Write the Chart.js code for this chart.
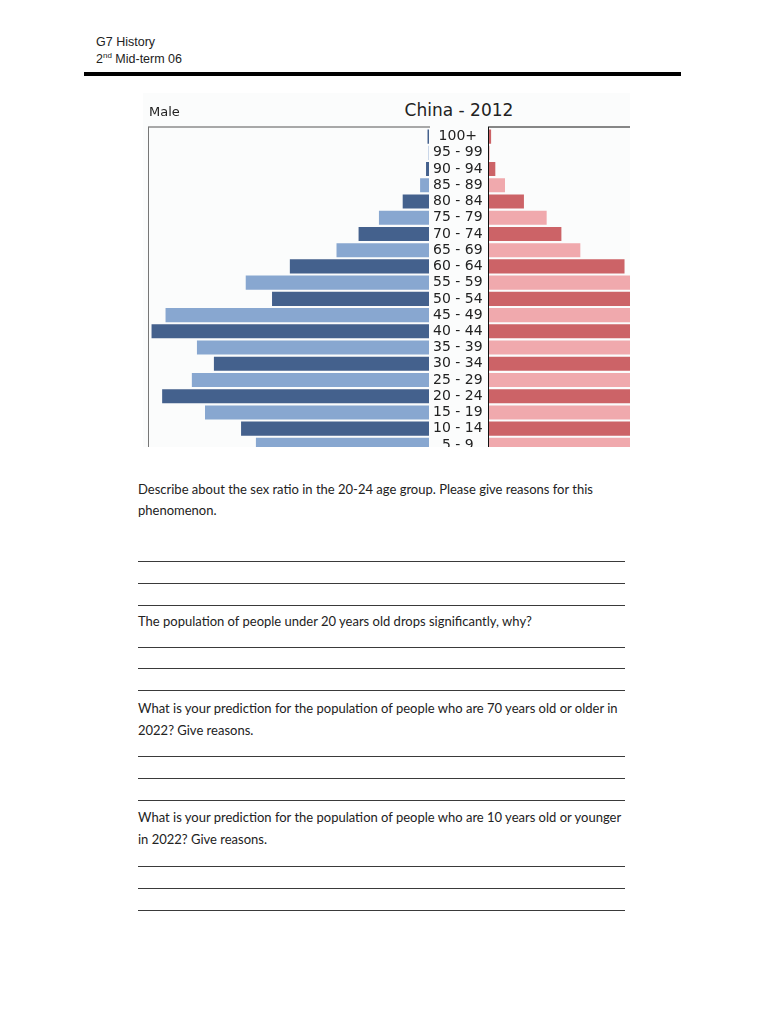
<!DOCTYPE html>
<html>
<head>
<meta charset="utf-8">
<script src="https://cdn.jsdelivr.net/npm/chart.js@4.4.1/dist/chart.umd.min.js"></script>
<style>
  body { margin: 0; background: #fff; width: 768px; height: 1024px; position: relative; overflow: hidden; color: #222; }
  .hdr { position: absolute; left: 96px; font-family: "Liberation Sans", Arial, sans-serif; font-size: 12.5px; line-height: 16px; color: #222; }
  .hdr sup { font-size: 8px; vertical-align: 5px; line-height: 0; }
  #rule { position: absolute; left: 84px; top: 72px; width: 597px; height: 4px; background: #000; }
  #chartBg { position: absolute; left: 143px; top: 93px; width: 487px; height: 354px; background: #fbfcfc; }
  #chinaTitle { position: absolute; left: 380px; width: 158px; top: 100px; text-align: center; font-family: "DejaVu Sans", sans-serif; font-size: 17px; line-height: 20px; color: #222; }
  #maleBox { position: absolute; left: 143px; top: 93px; width: 344px; height: 354px; overflow: hidden; }
  #femaleBox { position: absolute; left: 488px; top: 93px; width: 142px; height: 354px; overflow: hidden; }
  .q { position: absolute; left: 138px; font-family: Lato, "Open Sans", sans-serif; font-size: 13px; line-height: 18px; color: #222; white-space: nowrap; }
  .ln { position: absolute; left: 138px; width: 487px; height: 0; border-top: 1px solid #3a3a3a; }
</style>
</head>
<body>
<div class="hdr" style="top:34px">G7 History</div>
<div class="hdr" style="top:51px">2<sup>nd</sup> Mid-term 06</div>
<div id="rule"></div>

<div id="chartBg"></div>
<div id="chinaTitle">China - 2012</div>
<div id="maleBox"><canvas id="maleChart" width="344" height="360"></canvas></div>
<div id="femaleBox"><canvas id="femaleChart" width="142" height="360"></canvas></div>

<div class="q" style="top:480px">Describe about the sex ratio in the 20-24 age group. Please give reasons for this</div>
<div class="q" style="top:501px">phenomenon.</div>
<div class="ln" style="top:561px"></div>
<div class="ln" style="top:583px"></div>
<div class="ln" style="top:605px"></div>
<div class="q" style="top:612px">The population of people under 20 years old drops significantly, why?</div>
<div class="ln" style="top:647px"></div>
<div class="ln" style="top:668px"></div>
<div class="ln" style="top:690px"></div>
<div class="q" style="top:699px">What is your prediction for the population of people who are 70 years old or older in</div>
<div class="q" style="top:721px">2022? Give reasons.</div>
<div class="ln" style="top:756px"></div>
<div class="ln" style="top:778px"></div>
<div class="ln" style="top:800px"></div>
<div class="q" style="top:808px">What is your prediction for the population of people who are 10 years old or younger</div>
<div class="q" style="top:830px">in 2022? Give reasons.</div>
<div class="ln" style="top:866px"></div>
<div class="ln" style="top:888px"></div>
<div class="ln" style="top:910px"></div>

<script>
// age groups from oldest (top) to youngest shown
const ageGroups = ['100+', '95 - 99', '90 - 94', '85 - 89', '80 - 84', '75 - 79', '70 - 74', '65 - 69', '60 - 64', '55 - 59',
  '50 - 54', '45 - 49', '40 - 44', '35 - 39', '30 - 34', '25 - 29', '20 - 24', '15 - 19', '10 - 14', '5 - 9'];
// population, millions
const male = [0.35, 0.1, 0.7, 2.1, 6.2, 11.8, 16.6, 21.8, 32.8, 43.2,
  37.0, 62.1, 65.4, 54.7, 50.7, 55.9, 62.9, 52.8, 44.3, 40.8];
const female = [0.5, 0.15, 1.5, 3.8, 8.3, 13.7, 17.2, 21.7, 32.2, 42.0,
  36.0, 60.0, 62.0, 52.0, 48.5, 54.0, 59.0, 47.0, 38.0, 35.0];

const maleDark = '#44618d', maleLight = '#88a7d0';
const femaleDark = '#cc6367', femaleLight = '#f0a9ad';

const framePlugin = {
  id: 'frame',
  afterDatasetsDraw(chart, args, opts) {
    const { ctx, chartArea: a } = chart;
    ctx.save();
    ctx.lineWidth = 1;
    ctx.strokeStyle = opts.top;
    ctx.beginPath();
    ctx.moveTo(a.left - 1, a.top - 1.5);
    ctx.lineTo(a.right + 1, a.top - 1.5);
    ctx.stroke();
    ctx.strokeStyle = opts.side;
    ctx.beginPath();
    ctx.moveTo(a.left - 0.5, a.top - 1.5);
    ctx.lineTo(a.left - 0.5, a.bottom);
    ctx.stroke();
    ctx.restore();
  }
};

new Chart(document.getElementById('maleChart'), {
  type: 'bar',
  data: {
    labels: ageGroups,
    datasets: [{
      data: male,
      backgroundColor: ageGroups.map((_, i) => i % 2 ? maleLight : maleDark),
      barPercentage: 0.87,
      categoryPercentage: 1,
      clip: 0
    }]
  },
  options: {
    indexAxis: 'y',
    responsive: false,
    animation: false,
    layout: { padding: { left: 6, right: 0, top: 0, bottom: 0 } },
    plugins: {
      legend: { display: false },
      tooltip: { enabled: false },
      title: {
        display: true,
        text: 'Male',
        align: 'start',
        color: '#222',
        font: { family: 'DejaVu Sans', size: 13, weight: 'normal' },
        padding: { top: 12, bottom: 7.9 }
      },
      frame: { top: '#555', side: '#777' }
    },
    scales: {
      x: { display: false, reverse: true, min: 0, max: 66 },
      y: {
        position: 'right',
        grid: { display: false, drawTicks: false },
        border: { display: false },
        ticks: {
          color: '#222',
          font: { family: 'DejaVu Sans', size: 14 },
          crossAlign: 'center',
          padding: 4,
          autoSkip: false
        },
        afterFit: s => { s.width = 58; s.paddingTop = 0; s.paddingBottom = 0; }
      }
    }
  },
  plugins: [framePlugin]
});

new Chart(document.getElementById('femaleChart'), {
  type: 'bar',
  data: {
    labels: ageGroups,
    datasets: [{
      data: female,
      backgroundColor: ageGroups.map((_, i) => i % 2 ? femaleLight : femaleDark),
      barPercentage: 0.87,
      categoryPercentage: 1,
      clip: 0
    }]
  },
  options: {
    indexAxis: 'y',
    responsive: false,
    animation: false,
    layout: { padding: { left: 1, right: 0, top: 35.5, bottom: 0 } },
    plugins: {
      legend: { display: false },
      tooltip: { enabled: false },
      frame: { top: '#111', side: '#111' }
    },
    scales: {
      x: { display: false, min: 0, max: 33.5 },
      y: { display: false }
    }
  },
  plugins: [framePlugin]
});
</script>
</body>
</html>
